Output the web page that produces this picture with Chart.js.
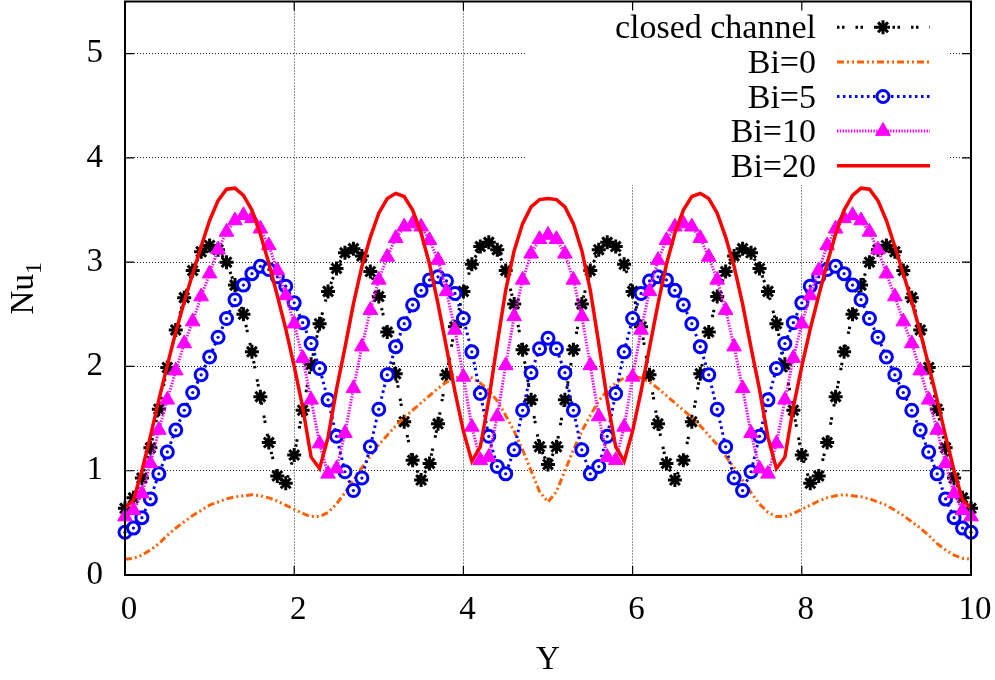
<!DOCTYPE html>
<html>
<head>
<meta charset="utf-8">
<title>Nu1 along the channel</title>
<script src="https://cdn.jsdelivr.net/npm/chart.js@4.4.1/dist/chart.umd.min.js"></script>
<style>
  html, body { margin: 0; padding: 0; background: #fff; }
  #wrap { width: 995px; height: 680px; }
</style>
</head>
<body>
<div id="wrap"><canvas id="nuChart" width="995" height="680"></canvas></div>
<script>
// positions along the channel (Y), one sample every 0.1
const positions = [
  0, 0.1, 0.2, 0.3, 0.4, 0.5, 0.6, 0.7, 0.8, 0.9,
  1, 1.1, 1.2, 1.3, 1.4, 1.5, 1.6, 1.7, 1.8, 1.9,
  2, 2.1, 2.2, 2.3, 2.4, 2.5, 2.6, 2.7, 2.8, 2.9,
  3, 3.1, 3.2, 3.3, 3.4, 3.5, 3.6, 3.7, 3.8, 3.9,
  4, 4.1, 4.2, 4.3, 4.4, 4.5, 4.6, 4.7, 4.8, 4.9,
  5, 5.1, 5.2, 5.3, 5.4, 5.5, 5.6, 5.7, 5.8, 5.9,
  6, 6.1, 6.2, 6.3, 6.4, 6.5, 6.6, 6.7, 6.8, 6.9,
  7, 7.1, 7.2, 7.3, 7.4, 7.5, 7.6, 7.7, 7.8, 7.9,
  8, 8.1, 8.2, 8.3, 8.4, 8.5, 8.6, 8.7, 8.8, 8.9,
  9, 9.1, 9.2, 9.3, 9.4, 9.5, 9.6, 9.7, 9.8, 9.9,
  10
];

// Nu_1 values
const closedChannel = [
  0.64, 0.74, 0.93, 1.22, 1.59, 1.99, 2.35, 2.66, 2.92, 3.10,
  3.16, 3.12, 3.00, 2.78, 2.50, 2.14, 1.71, 1.27, 0.95, 0.88,
  1.15, 1.58, 2.02, 2.41, 2.72, 2.94, 3.09, 3.13, 3.06, 2.91,
  2.67, 2.33, 1.93, 1.47, 1.10, 0.91, 1.07, 1.45, 1.92, 2.38,
  2.72, 2.98, 3.15, 3.19, 3.12, 2.92, 2.60, 2.16, 1.68, 1.23,
  1.06, 1.23, 1.68, 2.16, 2.60, 2.92, 3.12, 3.19, 3.15, 2.98,
  2.72, 2.38, 1.92, 1.45, 1.07, 0.91, 1.10, 1.47, 1.93, 2.33,
  2.67, 2.91, 3.06, 3.13, 3.09, 2.94, 2.72, 2.41, 2.02, 1.58,
  1.15, 0.88, 0.95, 1.27, 1.71, 2.14, 2.50, 2.78, 3.00, 3.12,
  3.16, 3.10, 2.92, 2.66, 2.35, 1.99, 1.59, 1.22, 0.93, 0.74,
  0.64
];
const bi0 = [
  0.15, 0.16, 0.19, 0.24, 0.30, 0.38, 0.45, 0.51, 0.57, 0.62,
  0.67, 0.70, 0.73, 0.75, 0.76, 0.77, 0.76, 0.74, 0.71, 0.67,
  0.63, 0.59, 0.56, 0.56, 0.60, 0.68, 0.79, 0.91, 1.03, 1.14,
  1.25, 1.34, 1.43, 1.51, 1.58, 1.65, 1.72, 1.79, 1.85, 1.89,
  1.91, 1.89, 1.84, 1.77, 1.67, 1.53, 1.38, 1.20, 1.00, 0.80,
  0.70, 0.80, 1.00, 1.20, 1.38, 1.53, 1.67, 1.77, 1.84, 1.89,
  1.91, 1.89, 1.85, 1.79, 1.72, 1.65, 1.58, 1.51, 1.43, 1.34,
  1.25, 1.14, 1.03, 0.91, 0.79, 0.68, 0.60, 0.56, 0.56, 0.59,
  0.63, 0.67, 0.71, 0.74, 0.76, 0.77, 0.76, 0.75, 0.73, 0.70,
  0.67, 0.62, 0.57, 0.51, 0.45, 0.38, 0.30, 0.24, 0.19, 0.16,
  0.15
];
const bi5 = [
  0.41, 0.45, 0.55, 0.73, 0.97, 1.18, 1.39, 1.58, 1.75, 1.92,
  2.09, 2.28, 2.46, 2.64, 2.78, 2.89, 2.96, 2.93, 2.86, 2.77,
  2.61, 2.42, 2.22, 1.98, 1.68, 1.33, 0.99, 0.81, 0.93, 1.23,
  1.59, 1.92, 2.19, 2.41, 2.59, 2.73, 2.83, 2.86, 2.82, 2.70,
  2.46, 2.14, 1.74, 1.33, 1.04, 0.97, 1.20, 1.58, 1.94, 2.17,
  2.27, 2.17, 1.94, 1.58, 1.20, 0.97, 1.04, 1.33, 1.74, 2.14,
  2.46, 2.70, 2.82, 2.86, 2.83, 2.73, 2.59, 2.41, 2.19, 1.92,
  1.59, 1.23, 0.93, 0.81, 0.99, 1.33, 1.68, 1.98, 2.22, 2.42,
  2.61, 2.77, 2.86, 2.93, 2.96, 2.89, 2.78, 2.64, 2.46, 2.28,
  2.09, 1.92, 1.75, 1.58, 1.39, 1.18, 0.97, 0.73, 0.55, 0.45,
  0.41
];
const bi10 = [
  0.56, 0.62, 0.78, 1.07, 1.39, 1.68, 1.96, 2.22, 2.43, 2.67,
  2.89, 3.12, 3.29, 3.40, 3.45, 3.42, 3.32, 3.16, 2.92, 2.68,
  2.41, 2.08, 1.68, 1.26, 0.97, 1.02, 1.36, 1.79, 2.19, 2.54,
  2.83, 3.05, 3.23, 3.34, 3.37, 3.34, 3.21, 3.02, 2.72, 2.35,
  1.90, 1.42, 1.10, 1.13, 1.52, 2.01, 2.48, 2.83, 3.08, 3.22,
  3.26, 3.22, 3.08, 2.83, 2.48, 2.01, 1.52, 1.13, 1.10, 1.42,
  1.90, 2.35, 2.72, 3.02, 3.21, 3.34, 3.37, 3.34, 3.23, 3.05,
  2.83, 2.54, 2.19, 1.79, 1.36, 1.02, 0.97, 1.26, 1.68, 2.08,
  2.41, 2.68, 2.92, 3.16, 3.32, 3.42, 3.45, 3.40, 3.29, 3.12,
  2.89, 2.67, 2.43, 2.22, 1.96, 1.68, 1.39, 1.07, 0.78, 0.62,
  0.56
];
const bi20 = [
  0.64, 0.72, 1.00, 1.33, 1.68, 2.01, 2.33, 2.62, 2.89, 3.15,
  3.40, 3.59, 3.70, 3.71, 3.64, 3.50, 3.27, 2.99, 2.68, 2.36,
  2.00, 1.61, 1.13, 1.02, 1.32, 1.78, 2.18, 2.60, 2.96, 3.24,
  3.47, 3.61, 3.66, 3.63, 3.50, 3.28, 2.98, 2.60, 2.18, 1.76,
  1.38, 1.09, 1.23, 1.68, 2.22, 2.73, 3.11, 3.37, 3.53, 3.60,
  3.61, 3.60, 3.53, 3.37, 3.11, 2.73, 2.22, 1.68, 1.23, 1.09,
  1.38, 1.76, 2.18, 2.60, 2.98, 3.28, 3.50, 3.63, 3.66, 3.61,
  3.47, 3.24, 2.96, 2.60, 2.18, 1.78, 1.32, 1.02, 1.13, 1.61,
  2.00, 2.36, 2.68, 2.99, 3.27, 3.50, 3.64, 3.71, 3.70, 3.59,
  3.40, 3.15, 2.89, 2.62, 2.33, 2.01, 1.68, 1.33, 1.00, 0.72,
  0.64
];

const seriesNames = ['closed channel', 'Bi=0', 'Bi=5', 'Bi=10', 'Bi=20'];
const xTicks = [0, 2, 4, 6, 8, 10];
const yTicks = [0, 1, 2, 3, 4, 5];
const xLabel = 'Y';
const yLabel = 'Nu';
const yLabelSub = '1';

const SERIF = '"Liberation Serif", "Times New Roman", serif';
const BLACK = '#000000';
const ORANGE = '#ff6000';
const BLUE = '#0000ff';
const MAGENTA = '#ff00ff';
const RED = '#ff0000';

function toPoints(values) {
    return positions.map((x, i) => ({ x: x, y: values[i] }));
}

// legend entries (drawn by hand so text sits left of the sample, like gnuplot)
const legendEntries = [
    { label: seriesNames[0], color: BLACK, dash: [2.5, 2.5, 2.5, 11], width: 3, marker: 'star' },
    { label: seriesNames[1], color: ORANGE, dash: [7, 3, 2, 3, 2, 3], width: 3, marker: null },
    { label: seriesNames[2], color: BLUE, dash: [2.5, 3.5], width: 3, marker: 'circle' },
    { label: seriesNames[3], color: MAGENTA, dash: [1.4, 1.4], width: 3, marker: 'triangle' },
    { label: seriesNames[4], color: RED, dash: [], width: 3.5, marker: null }
];

function drawMarker(ctx, type, x, y, color) {
    ctx.save();
    ctx.setLineDash([]);
    ctx.strokeStyle = color;
    ctx.fillStyle = color;
    if (type == 'star') {
        const r = 7, d = r * Math.SQRT1_2;
        ctx.lineWidth = 3;
        ctx.beginPath();
        ctx.moveTo(x - r, y); ctx.lineTo(x + r, y);
        ctx.moveTo(x, y - r); ctx.lineTo(x, y + r);
        ctx.moveTo(x - d, y - d); ctx.lineTo(x + d, y + d);
        ctx.moveTo(x - d, y + d); ctx.lineTo(x + d, y - d);
        ctx.stroke();
    } else if (type == 'circle') {
        ctx.lineWidth = 3;
        ctx.fillStyle = '#ffffff';
        ctx.beginPath();
        ctx.arc(x, y, 6, 0, Math.PI * 2);
        ctx.fill();
        ctx.stroke();
        ctx.fillStyle = color;
        ctx.beginPath();
        ctx.arc(x, y, 1.6, 0, Math.PI * 2);
        ctx.fill();
    } else if (type == 'triangle') {
        const r = 8.5;
        ctx.lineWidth = 1;
        ctx.beginPath();
        ctx.moveTo(x, y - r);
        ctx.lineTo(x + r * Math.sin(Math.PI * 2 / 3), y - r * Math.cos(Math.PI * 2 / 3));
        ctx.lineTo(x + r * Math.sin(Math.PI * 4 / 3), y - r * Math.cos(Math.PI * 4 / 3));
        ctx.closePath();
        ctx.fill();
        ctx.stroke();
    }
    ctx.restore();
}

const gnuplotFrame = {
    id: 'gnuplotFrame',
    // white key box covering the grid
    beforeDatasetsDraw(chart) {
        const { ctx, chartArea } = chart;
        ctx.save();
        ctx.fillStyle = '#ffffff';
        ctx.fillRect(chartArea.right - 444, chartArea.top, 423, 185 - chartArea.top);
        ctx.restore();
    },
    afterDraw(chart) {
        const { ctx, chartArea } = chart;
        const xs = chart.scales.x, ys = chart.scales.y;
        ctx.save();

        // frame on all four sides
        ctx.strokeStyle = BLACK;
        ctx.lineWidth = 2;
        ctx.setLineDash([]);
        ctx.strokeRect(chartArea.left, chartArea.top, chartArea.right - chartArea.left, chartArea.bottom - chartArea.top);

        // inward tick marks
        ctx.lineWidth = 1.2;
        ctx.beginPath();
        xTicks.forEach(v => {
            const px = xs.getPixelForValue(v);
            ctx.moveTo(px, chartArea.bottom); ctx.lineTo(px, chartArea.bottom - 9);
            ctx.moveTo(px, chartArea.top); ctx.lineTo(px, chartArea.top + 9);
        });
        yTicks.forEach(v => {
            const py = ys.getPixelForValue(v);
            ctx.moveTo(chartArea.left, py); ctx.lineTo(chartArea.left + 9, py);
            ctx.moveTo(chartArea.right, py); ctx.lineTo(chartArea.right - 9, py);
        });
        ctx.stroke();

        // key
        const textRight = chartArea.right - 155;
        const lineStart = chartArea.right - 134;
        const lineEnd = chartArea.right - 41;
        const markX = chartArea.right - 88;
        ctx.font = '34px ' + SERIF;
        ctx.textAlign = 'right';
        ctx.textBaseline = 'alphabetic';
        legendEntries.forEach((e, i) => {
            const rowY = 27.3 + i * 34.6;
            ctx.fillStyle = BLACK;
            ctx.fillText(e.label, textRight, rowY + 11);
            ctx.strokeStyle = e.color;
            ctx.lineWidth = e.width;
            ctx.setLineDash(e.dash);
            ctx.beginPath();
            ctx.moveTo(lineStart, rowY);
            ctx.lineTo(lineEnd, rowY);
            ctx.stroke();
            if (e.marker) drawMarker(ctx, e.marker, markX, rowY, e.color);
        });

        // y axis title with subscript
        ctx.setLineDash([]);
        ctx.fillStyle = BLACK;
        ctx.textAlign = 'left';
        const mainFont = '33px ' + SERIF;
        const subFont = '24px ' + SERIF;
        ctx.font = mainFont;
        const wMain = ctx.measureText(yLabel).width;
        ctx.font = subFont;
        const wSub = ctx.measureText(yLabelSub).width;
        const midY = (chartArea.top + chartArea.bottom) / 2;
        ctx.translate(33, midY + (wMain + wSub) / 2);
        ctx.rotate(-Math.PI / 2);
        ctx.font = mainFont;
        ctx.fillText(yLabel, 0, 0);
        ctx.font = subFont;
        ctx.fillText(yLabelSub, wMain, 8);
        ctx.restore();
    }
};

const ctx = document.getElementById('nuChart');

new Chart(ctx, {
    type: 'line',
    data: {
        datasets: [
            {
                label: seriesNames[4],
                data: toPoints(bi20),
                borderColor: RED,
                borderWidth: 3.5,
                pointRadius: 0,
                clip: false,
                order: 0
            },
            {
                label: seriesNames[3],
                data: toPoints(bi10),
                borderColor: MAGENTA,
                borderWidth: 3,
                borderDash: [1.4, 1.4],
                pointStyle: 'triangle',
                pointRadius: 8.5,
                pointBackgroundColor: MAGENTA,
                pointBorderColor: MAGENTA,
                pointBorderWidth: 1,
                clip: false,
                order: 1
            },
            {
                // centre dots of the Bi=5 circles
                label: seriesNames[2] + ' dots',
                data: toPoints(bi5),
                showLine: false,
                pointStyle: 'circle',
                pointRadius: 1.6,
                pointBackgroundColor: BLUE,
                pointBorderWidth: 0,
                clip: false,
                order: 2
            },
            {
                label: seriesNames[2],
                data: toPoints(bi5),
                borderColor: BLUE,
                borderWidth: 3,
                borderDash: [2.5, 3.5],
                pointStyle: 'circle',
                pointRadius: 6,
                pointBorderWidth: 3,
                pointBorderColor: BLUE,
                pointBackgroundColor: '#ffffff',
                clip: false,
                order: 3
            },
            {
                label: seriesNames[1],
                data: toPoints(bi0),
                borderColor: ORANGE,
                borderWidth: 3,
                borderDash: [7, 3, 2, 3, 2, 3],
                pointRadius: 0,
                clip: false,
                order: 4
            },
            {
                label: seriesNames[0],
                data: toPoints(closedChannel),
                borderColor: BLACK,
                borderWidth: 3,
                borderDash: [2.5, 2.5, 2.5, 11],
                pointStyle: 'star',
                pointRadius: 7,
                pointBorderWidth: 3,
                pointBorderColor: BLACK,
                clip: false,
                order: 5
            }
        ]
    },
    options: {
        responsive: false,
        animation: false,
        devicePixelRatio: 1,
        layout: { autoPadding: false, padding: { top: 1.5, right: 24, left: 0, bottom: 0 } },
        elements: { line: { tension: 0, fill: false } },
        plugins: {
            legend: { display: false },
            tooltip: { enabled: false }
        },
        scales: {
            x: {
                type: 'linear',
                min: 0,
                max: 10,
                afterFit: scale => {
                    scale.height = 105;
                    scale.paddingLeft = 0;
                    scale.paddingRight = 0;
                },
                ticks: {
                    stepSize: 2,
                    padding: 16,
                    labelOffset: 4,
                    maxRotation: 0,
                    color: BLACK,
                    font: { family: SERIF, size: 33 }
                },
                grid: { color: 'rgba(0,0,0,0.85)', lineWidth: 1, drawTicks: false },
                border: { display: false, dash: [1, 2] },
                title: {
                    display: true,
                    text: xLabel,
                    color: BLACK,
                    font: { family: SERIF, size: 33 },
                    padding: { top: 0, bottom: 0 }
                }
            },
            y: {
                type: 'linear',
                min: 0,
                max: 5.5,
                afterFit: scale => {
                    scale.width = 125;
                    scale.paddingTop = 0;
                    scale.paddingBottom = 0;
                },
                ticks: {
                    stepSize: 1,
                    includeBounds: false,
                    padding: 22,
                    color: BLACK,
                    font: { family: SERIF, size: 33 }
                },
                grid: { color: 'rgba(0,0,0,0.85)', lineWidth: 1, drawTicks: false },
                border: { display: false, dash: [1, 2] }
            }
        }
    },
    plugins: [gnuplotFrame]
});
</script>
</body>
</html>
